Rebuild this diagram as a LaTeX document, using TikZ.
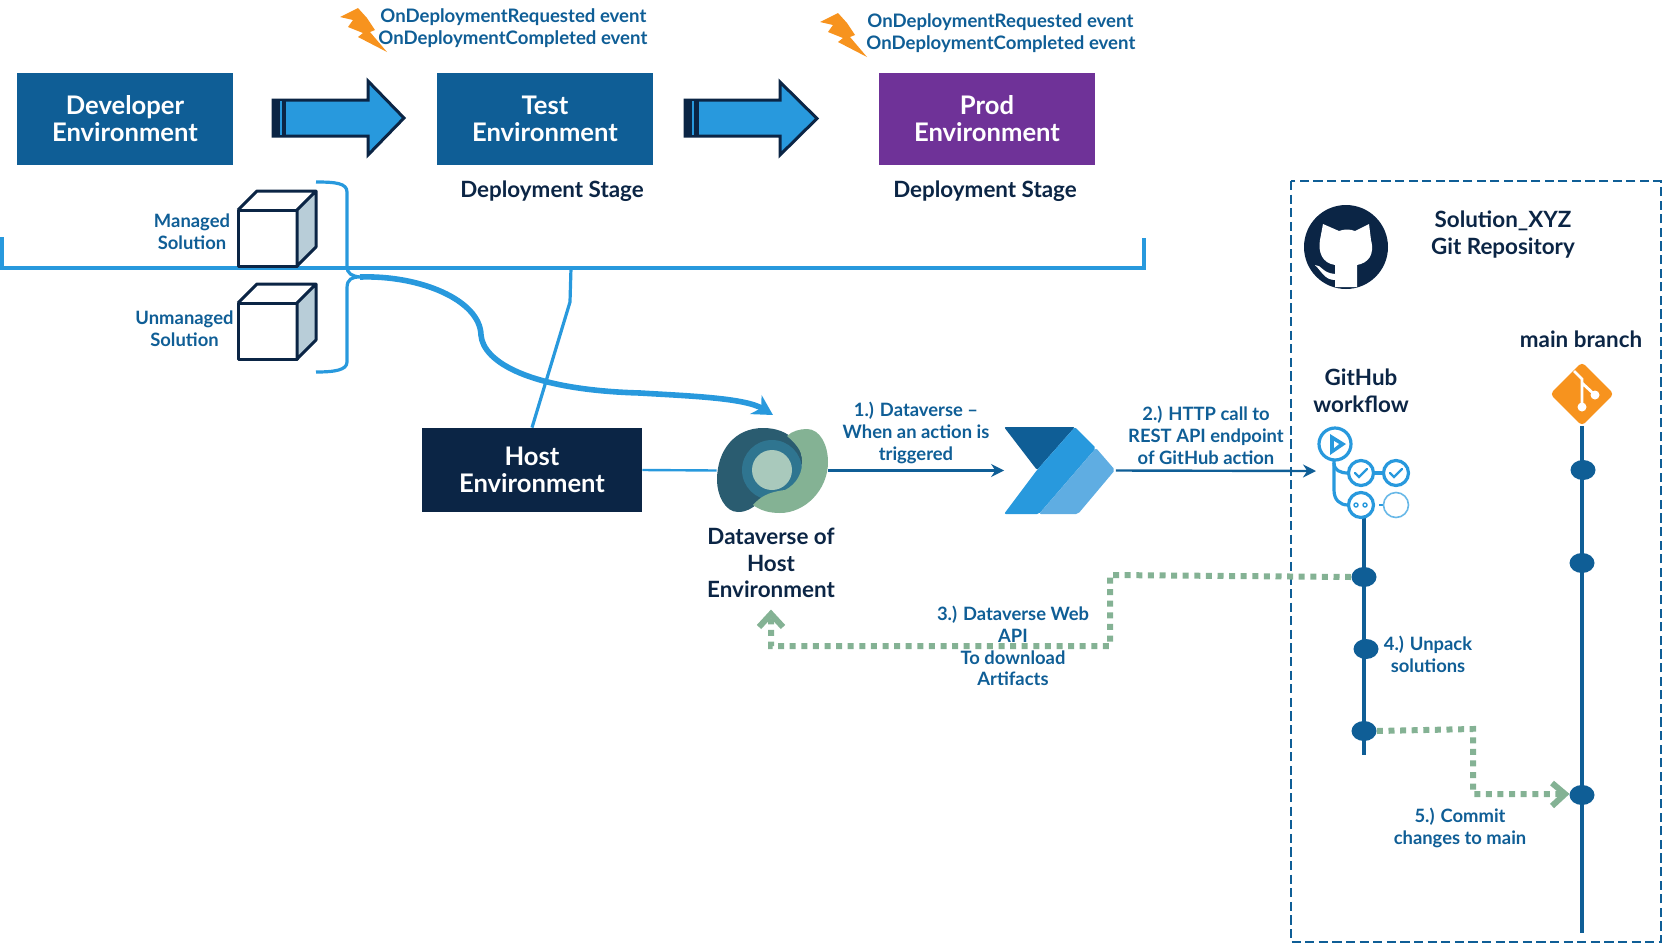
\documentclass[tikz,border=0pt]{standalone}
\usepackage{fontspec}
\setmainfont{Lato}
\usetikzlibrary{arrows.meta,shapes.geometric}
\definecolor{navy}{HTML}{0B2545}
\definecolor{midblue}{HTML}{0F5E96}
\definecolor{skyb}{HTML}{2899DD}
\definecolor{leaf}{HTML}{84B294}
\definecolor{bolt}{HTML}{F7931E}
\definecolor{violet}{HTML}{6F3298}
\definecolor{cubeside}{HTML}{B8CDD8}
\definecolor{dvdark}{HTML}{2A5C70}
\definecolor{dvmid}{HTML}{2F7590}
\definecolor{dvlight}{HTML}{A9C9BC}
\definecolor{pamid}{HTML}{5FADE2}
\tikzset{
  envbox/.style={fill=#1,draw=none,text=white,minimum width=108pt,minimum height=46pt,inner sep=0pt,align=center,font=\fontsize{12.8}{13.5}\selectfont\bfseries},
  lab/.style={text=midblue,align=center,inner sep=0pt,font=\fontsize{9.2}{11}\selectfont\bfseries},
  head/.style={text=navy,align=center,inner sep=0pt,font=\fontsize{11.2}{13.4}\selectfont\bfseries},
  evt/.style={text=midblue,inner sep=0pt,font=\fontsize{9.3}{11}\selectfont\bfseries},
  blockarrow/.style={fill=skyb,draw=navy,line width=1.5pt,miter limit=10},
  boltshape/.style={fill=bolt,draw=none},
  cubeline/.style={draw=navy,line width=1.5pt,line join=round},
  skyline/.style={draw=skyb,line width=1.6pt},
  flow/.style={draw=midblue,line width=1.2pt,-{Stealth[length=6.5pt,width=6.5pt]}},
  greenflow/.style={draw=leaf,line width=3pt,dash pattern=on 3pt off 2.8pt},
  chevron/.style={draw=leaf,line width=3pt,line join=miter},
  branchline/.style={draw=midblue,line width=2.4pt},
  commit/.style={ellipse,fill=midblue,draw=none,minimum width=12.5pt,minimum height=10pt,inner sep=0pt},
  wfline/.style={draw=skyb,line width=1.6pt},
  wfcircle/.style={circle,draw=skyb,line width=1.6pt,fill=white,minimum size=12.5pt,inner sep=0pt},
  iconframe/.style={draw=none,inner sep=0pt,minimum width=#1},
}
\begin{document}
\begin{tikzpicture}[x=0.5pt,y=-0.5pt]
\useasboundingbox (0,0) rectangle (1662,944);
% environments
\node[envbox=midblue] (dev) at (125,119) {Developer\\Environment};
\node[envbox=midblue] (test) at (545,119) {Test\\Environment};
\node[envbox=violet] (prod) at (987,119) {Prod\\Environment};
% block arrows
\draw[blockarrow] (273,100) -- (368,100) -- (368,81) -- (404,118) -- (368,155) -- (368,136) -- (273,136) -- cycle;
\fill[navy] (272,99) rectangle (286,137);
\fill[skyb] (280,101) rectangle (281.5,135);
\draw[blockarrow] (685,100) -- (780,100) -- (780,82) -- (817,118.5) -- (780,155) -- (780,136) -- (685,136) -- cycle;
\fill[navy] (684,99) rectangle (699,137);
\fill[skyb] (692,101) rectangle (694,135);
% lightning and events
\fill[boltshape] (340,17) -- (358,8) -- (367,18) -- (375,30) -- (370,32) -- (387,52) -- (358,37) -- (363,33) -- (348,27) -- (353,20) -- cycle;
\fill[boltshape] (820,22) -- (838,13) -- (847,23) -- (855,35) -- (850,37) -- (867,57) -- (838,42) -- (843,38) -- (828,32) -- (833,25) -- cycle;
\node[evt,anchor=west] (ev1a) at (380,17) {OnDeploymentRequested event};
\node[evt,anchor=west] (ev1b) at (378,39.5) {OnDeploymentCompleted event};
\node[evt,anchor=west] (ev2a) at (867,22) {OnDeploymentRequested event};
\node[evt,anchor=west] (ev2b) at (866,44) {OnDeploymentCompleted event};
\node[head] (ds1) at (552,191) {Deployment Stage};
\node[head] (ds2) at (985,191) {Deployment Stage};
% bracket line
\coordinate (bl) at (2,237);
\coordinate (bl2) at (2,268);
\coordinate (br2) at (1144,268);
\coordinate (br) at (1144,238);
\coordinate (bj) at (571,268);
\coordinate (bk) at (570,302);
\draw[skyline] (bl) -- (bl2) -- (br2) -- (br);
% cubes
\draw[cubeline] (238,210) rectangle (297,266);
\fill[cubeside] (297,210) -- (316,191) -- (316,247) -- (297,266) -- cycle;
\draw[cubeline] (238,210) -- (257,191) -- (316,191) -- (297,210) (316,191) -- (316,247) -- (297,266) (297,210) -- (297,266);
\draw[cubeline] (238,303) rectangle (297,359);
\fill[cubeside] (297,303) -- (316,284) -- (316,340) -- (297,359) -- cycle;
\draw[cubeline] (238,303) -- (257,284) -- (316,284) -- (297,303) (316,284) -- (316,340) -- (297,359) (297,303) -- (297,359);
\node[lab] (mgd) at (192,232) {Managed\\Solution};
\node[lab] (umg) at (184.5,329) {Unmanaged\\Solution};
% curly bracket
\coordinate (ctip) at (360,277);
\draw[skyline] (316,182) .. controls (335,182) and (347,183) .. (347,192) -- (347,266) .. controls (347,274) and (352,276) .. (ctip) .. controls (352,277) and (347,279) .. (347,288) -- (347,362) .. controls (347,370) and (335,372) .. (316,372);
% host
\node[envbox=navy,minimum width=110pt,minimum height=42pt] (host) at (532,470) {Host\\Environment};
\draw[skyline] (bj) -- (bk) -- (host.north);
% dataverse icon
\node[iconframe=55.5pt,minimum height=42.5pt] (dv) at (772.5,470.5) {};
\fill[dvdark] (763,428) .. controls (790,428) and (802,445) .. (802,460) .. controls (802,480) and (785,490) .. (775,492) .. controls (760,497) and (755,512) .. (738,512) .. controls (725,512) and (717,495) .. (717,480) .. controls (717,450) and (735,428) .. (763,428) -- cycle;
\fill[dvmid] (772,470) circle [radius=30];
\fill[leaf] (807,429) .. controls (820,429) and (828,445) .. (828,462) .. controls (828,490) and (805,513) .. (780,513) .. controls (768,513) and (760,510) .. (753,505) .. controls (760,497) and (768,492) .. (785,490) .. controls (797,484) and (803,472) .. (802,460) .. controls (802,450) and (795,443) .. (787,436) .. controls (792,431) and (800,429) .. (807,429) -- cycle;
\fill[dvlight] (772,470) circle [radius=20];
\node[head] (dvl) at (771,563) {Dataverse of\\Host\\Environment};
% power automate icon
\node[iconframe=55.5pt,minimum height=43.5pt] (pa) at (1060,470.5) {};
\fill[midblue,rounded corners=1pt] (1004,427) -- (1075,427) -- (1037,470) -- cycle;
\fill[skyb,rounded corners=1pt] (1075,427) -- (1096,448) -- (1039,514) -- (1004,514) -- (1037,470) -- cycle;
\fill[pamid,rounded corners=1pt] (1096,448) -- (1115,470) -- (1078,514) -- (1039,514) -- cycle;
% connectors
\draw[skyline,line width=1.2pt] (host.east) -- (dv.west);
\draw[flow] (dv.east) -- (pa.west);
\coordinate (wfin) at (1316,471);
\draw[flow] (pa.east) -- (wfin);
\coordinate (c1) at (640,393);
\coordinate (c2) at (481,335);
\coordinate (ctipEnd) at (773,415);
\draw[draw=skyb,line width=2.8pt,-{Stealth[length=10pt,width=11pt]}] (ctip) .. controls (420,275) and (480,300) .. (c2) .. controls (483,362) and (530,390) .. (c1) .. controls (690,396) and (745,398) .. (ctipEnd);
% labels
\node[lab] (l1) at (916,433) {1.) Dataverse –\\When an action is\\triggered};
\node[lab] (l2) at (1206,435) {2.) HTTP call to\\REST API endpoint\\of GitHub action};
\node[lab,font=\fontsize{9.2}{10.9}\selectfont\bfseries] (l3) at (1013,646) {3.) Dataverse Web\\API\\To download\\Artifacts};
\node[lab] (l4) at (1428,654) {4.) Unpack\\solutions};
\node[lab] (l5) at (1460,827.5) {5.) Commit\\changes to main};
% repository frame
\draw[draw=midblue,line width=1pt,dash pattern=on 4.6pt off 2.2pt] (1291,181) rectangle (1661,942);
% github logo
\node[circle,fill=navy,minimum size=42pt,inner sep=0pt] (gh) at (1346,247) {};
\fill[white] (1323,224) -- (1339,231) .. controls (1344,229) and (1350,229) .. (1355,231) -- (1369,224) -- (1371,240) .. controls (1375,255) and (1368,263) .. (1357,265) -- (1357,287) -- (1335,287) -- (1335,265) .. controls (1322,263) and (1318,252) .. (1320,240) -- cycle;
\fill[white] (1315,265) .. controls (1322,265) and (1322,273) .. (1335,274) -- (1335,280) .. controls (1325,280) and (1322,272) .. (1315,265) -- cycle;
\node[head] (sx) at (1503,234.5) {Solution\_XYZ\\Git Repository};
\node[head] (mb) at (1581,339) {main branch};
\node[head] (gw) at (1361,390.5) {GitHub\\workflow};
% branch lines
\node[diamond,fill=bolt,rounded corners=2pt,minimum size=32pt,inner sep=0pt] (git) at (1582,394) {};
\coordinate (mbend) at (1582,933);
\coordinate (wftop) at (1364,518);
\coordinate (wfend) at (1364,755);
\draw[branchline] (git.south) -- (mbend);
\draw[branchline] (wftop) -- (wfend);
\node[commit] (m1) at (1583,470) {};
\node[commit] (m2) at (1582,563) {};
\node[commit] (m3) at (1582,795) {};
\node[commit] (w1) at (1364,577) {};
\node[commit] (w2) at (1366,649) {};
\node[commit] (w3) at (1364,731) {};
% git glyph
\draw[white,line width=1.4pt] (1574,371) -- (1582,379) -- (1582,407) (1582,383) -- (1595,395);
\fill[white] (1582,407) circle [radius=4.5] (1595,395) circle [radius=4.5];
% workflow icon
\draw[wfline] (1334,460) -- (1334,463) .. controls (1334,470) and (1340,473) .. (1348,473);
\draw[wfline] (1334,463) -- (1334,490) .. controls (1334,500) and (1340,505) .. (1348,505);
\draw[wfline] (1372,473) -- (1384,473);
\draw[skyb,line width=.8pt] (1379,505) -- (1384,505);
\node[wfcircle,minimum size=16pt] (wplay) at (1335,444) {};
\fill[skyb] (1330,434) -- (1346,444) -- (1330,455) -- cycle;
\fill[white] (1334,441) -- (1339,444) -- (1334,448) -- cycle;
\node[wfcircle] (wc1) at (1361,473) {};
\node[wfcircle] (wc2) at (1396,473) {};
\node[wfcircle] (wc3) at (1361,505) {};
\node[wfcircle,line width=.8pt,draw=skyb!70] (wc4) at (1396,505) {};
\draw[skyb,line width=1.2pt,line cap=round] (1355,473) -- (1359,477) -- (1367,469) (1390,473) -- (1394,477) -- (1402,469);
\draw[skyb,line width=.7pt] (1356,505) circle [radius=2] (1365,505) circle [radius=2];
% green flows
\coordinate (g3a) at (1110,575);
\coordinate (g3b) at (1110,646);
\coordinate (g3c) at (771,646);
\coordinate (g3d) at (771,616);
\draw[greenflow] (w1.west) -- (g3a) -- (g3b) -- (g3c) -- (g3d);
\draw[chevron] (759,627) -- (771,614) -- (783,627);
\coordinate (g5a) at (1473,729);
\coordinate (g5b) at (1473,794);
\coordinate (g5c) at (1565,794);
\draw[greenflow] (w3.east) -- (g5a) -- (g5b) -- (g5c);
\draw[chevron] (1552,783) -- (1565,794) -- (1552,806);
\end{tikzpicture}
\end{document}
